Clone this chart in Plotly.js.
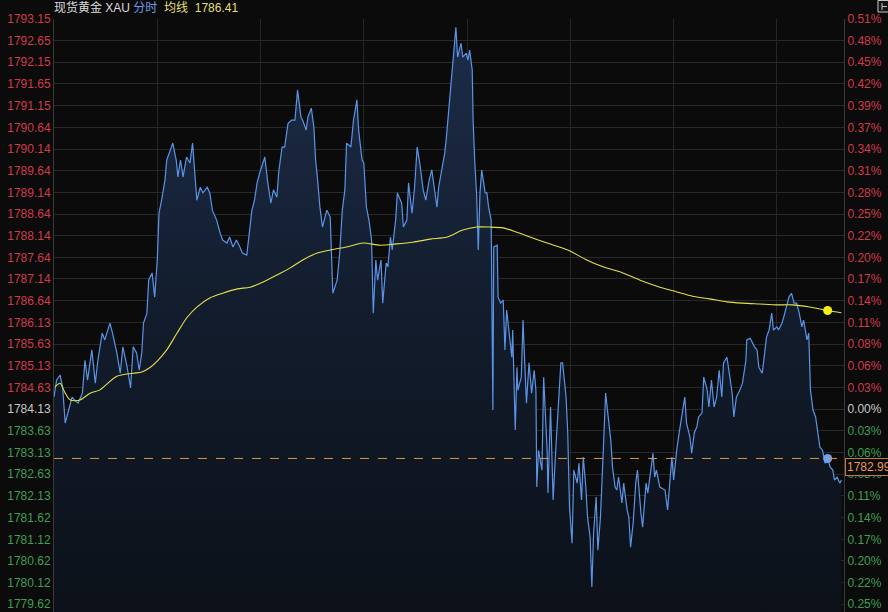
<!DOCTYPE html>
<html>
<head>
<meta charset="utf-8">
<script src="https://cdn.plot.ly/plotly-3.0.1.min.js"></script>
<style>html,body{margin:0;padding:0;background:#0b0b0b;}#chart{width:888px;height:612px;}</style>
</head>
<body>
<div id="chart"></div>
<script>
// minutes since session open
const times = [0,3,7,10,13,16,21,24,28,33,36,39,44,48,51,56,59,65,68,73,77,80,85,89,92,96,99,102,104,108,
110,114,117,120,122,125,129,131,135,138,142,144,147,150,154,158,161,164,166,170,
173,178,181,184,189,193,196,201,204,208,212,216,219,224,227,230,233,236,239,245,
248,252,255,259,261,265,268,272,276,280,283,287,289,293,295,299,302,304,306,309,
312,317,321,
324,329,332,335,338,340,345,348,352,354,358,360,363,366,369,371,374,376,380,382,
386,388,391,393,397,399,404,406,410,412,416,419,422,425,429,432,436,439,441,445,
447,452,454,456,460,462,465,467,469,473,475,479,481,483,486,487,489,491,493,495,
497,501,503,505,508,510,511,515,516,519,522,524,526,529,532,533,536,538,539,543,
545,547,549,552,555,558,560,561,563,567,569,573,574,577,580,583,585,589,591,595,
597,599,602,604,608,610,613,615,618,620,623,625,627,630,632,635,638,641,644,647,
649,652,654,656,660,662,666,668,670,673,676,678,682,684,688,690,694,696,698,700,
704,710,713,718,720,724,727,731,733,735,739,741,744,747,749,753,755,759,761,764,
767,770,773,776,778,782,784,788,790,793,797,800,804,805,809,812,814,817,819,823,
825,828,831,834,836,840,842,846,848,852,854,857,860,863,866,869,871,875,877,879,
882,885,888,890,893,896,899,902,905,907,910,913,915];

const prices = [1784.41,1784.80,1784.92,1784.64,1783.81,1784.04,1784.41,1784.34,1784.27,1784.50,
1785.26,1784.80,1785.50,1784.73,1785.26,1785.89,1785.73,1786.12,1785.89,1785.43,
1784.96,1785.57,1785.10,1784.62,1785.57,1785.43,1785.03,1785.43,1786.12,1786.35,
1787.11,1787.28,1786.72,1787.58,1788.66,1788.96,1789.43,1789.89,1790.12,1790.28,
1789.89,1789.50,1789.89,1789.50,1789.96,1789.82,1790.28,1789.50,1788.96,1789.26,
1789.13,1789.26,1789.13,1788.73,1788.50,1788.20,1788.04,1787.97,1788.11,1787.88,
1788.04,1787.88,1787.74,1787.69,1788.20,1788.73,1788.96,1789.36,1789.59,1789.96,
1789.43,1788.89,1789.20,1789.03,1789.59,1790.19,1790.19,1790.74,1790.81,1790.81,
1791.51,1790.88,1790.81,1790.58,1790.88,1791.09,1790.65,1789.89,1789.50,1788.80,
1788.34,1788.73,1788.57,
1786.81,1787.11,1787.74,1788.73,1789.20,1790.28,1790.19,1790.81,1791.28,1790.58,
1789.89,1789.82,1788.80,1788.50,1788.04,1786.35,1787.58,1787.11,1787.58,1786.58,
1787.51,1787.42,1788.11,1787.81,1788.50,1789.13,1788.89,1788.34,1788.50,1789.36,
1788.66,1789.26,1790.19,1789.82,1789.20,1788.96,1789.43,1789.66,1789.36,1788.80,
1789.26,1789.82,1790.05,1790.42,1791.28,1791.74,1792.43,1792.96,1792.27,1792.59,
1792.27,1792.36,1792.20,1792.43,1791.97,1790.81,1789.82,1789.13,1787.81,1789.13,
1789.66,1789.13,1789.13,1788.80,1788.50,1784.11,1787.88,1787.92,1786.72,1786.58,
1786.65,1785.50,1786.42,1785.80,1785.33,1785.96,1783.65,1785.10,1784.57,1784.87,
1786.19,1785.20,1784.27,1785.20,1784.50,1785.03,1784.57,1782.33,1783.18,1782.72,
1784.87,1783.18,1782.19,1784.18,1782.03,1783.18,1783.81,1785.20,1785.20,1784.41,
1783.58,1781.87,1781.03,1782.72,1782.42,1782.88,1782.03,1783.02,1782.33,1781.63,
1781.17,1780.02,1781.26,1782.10,1780.87,1781.63,1783.02,1784.50,1783.95,1783.41,
1782.79,1782.33,1782.26,1782.56,1781.96,1782.42,1781.80,1781.63,1780.94,1781.50,
1782.42,1782.72,1781.73,1781.40,1782.42,1782.19,1782.79,1783.11,1782.56,1782.72,
1782.33,1782.26,1781.80,1783.02,1782.49,1783.25,1783.65,1784.11,1784.41,1783.81,
1783.48,1783.11,1783.58,1783.72,1783.95,1784.04,1784.87,1784.57,1784.18,1784.80,
1784.18,1784.41,1785.03,1784.41,1785.20,1785.33,1785.03,1784.50,1783.95,1784.41,
1784.57,1784.73,1785.26,1785.73,1785.77,1785.66,1785.57,1785.50,1785.10,1784.96,
1785.26,1785.80,1785.96,1786.35,1785.96,1786.03,1785.96,1786.12,1786.26,1786.58,
1786.72,1786.81,1786.58,1786.58,1786.35,1786.03,1786.19,1785.73,1785.89,1784.57,
1784.11,1783.95,1783.58,1783.25,1783.18,1782.88,1782.99,1782.79,1782.72,1782.49,
1782.56,1782.42,1782.49];

const avgTimes = [1,7,13,19,30,42,53,73,92,102,112,120,131,143,155,166,181,196,213,228,
243,259,274,289,306,321,340,359,379,398,417,437,457,475,491,506,522,538,553,573,
597,619,638,661,681,704,724,742,762,782,800,820,840,858,878,899,915];
const avgPrices = [1784.64,1784.73,1784.50,1784.34,1784.34,1784.50,1784.57,1784.89,1784.96,1784.99,
1785.10,1785.24,1785.50,1785.89,1786.26,1786.49,1786.70,1786.81,1786.91,1786.95,
1787.07,1787.23,1787.39,1787.58,1787.74,1787.81,1787.88,1787.97,1787.92,1787.95,
1787.99,1788.06,1788.11,1788.27,1788.34,1788.34,1788.32,1788.22,1788.11,1787.97,
1787.81,1787.58,1787.42,1787.28,1787.11,1786.95,1786.84,1786.74,1786.68,1786.61,
1786.58,1786.56,1786.54,1786.54,1786.49,1786.41,1786.36];

const lastTime = 899;
const lastPrice = 1782.99;
const lastAvg = 1786.41;
const prevClose = 1784.13;

const priceTicks = [1793.15,1792.65,1792.15,1791.65,1791.15,1790.64,1790.14,1789.64,1789.14,1788.64,
1788.14,1787.64,1787.14,1786.64,1786.13,1785.63,1785.13,1784.63,1784.13,1783.63,
1783.13,1782.63,1782.13,1781.62,1781.12,1780.62,1780.12,1779.62];
const pctLabels = ['0.51%','0.48%','0.45%','0.42%','0.39%','0.37%','0.34%','0.31%','0.28%','0.25%',
'0.22%','0.20%','0.17%','0.14%','0.11%','0.08%','0.06%','0.03%','0.00%','0.03%',
'0.06%','0.08%','0.11%','0.14%','0.17%','0.20%','0.22%','0.25%'];

const RED = '#d23a4c', GREEN = '#3f9f55', NEUTRAL = '#c8c8c8';
function colorFor(v){ return v > prevClose + 0.001 ? RED : (v < prevClose - 0.001 ? GREEN : NEUTRAL); }
const leftText = priceTicks.map(v => `<span style="color:${colorFor(v)}">${v.toFixed(2)}</span>`);
const rightText = priceTicks.map((v,i) => `<span style="color:${colorFor(v)}">${pctLabels[i]}</span>`);

const yRange = [1779.44, 1793.15];
const xRange = [0, 918];

const traces = [
  {
    x: times, y: prices, type: 'scatter', mode: 'lines',
    line: {color: '#5b93e6', width: 1.2},
    fill: 'tozeroy',
    fillcolor: 'rgba(30,48,78,0.55)',
    fillgradient: {type: 'vertical', start: yRange[0], stop: yRange[1],
      colorscale: [[0, '#0c1119'], [0.5, '#121c2c'], [1, '#1d2d4a']]},
    hoverinfo: 'skip', showlegend: false
  },
  {
    x: avgTimes, y: avgPrices, type: 'scatter', mode: 'lines',
    line: {color: '#e4e04a', width: 1.1, shape: 'spline', smoothing: 0.8},
    hoverinfo: 'skip', showlegend: false
  },
  {
    x: [lastTime], y: [lastPrice], type: 'scatter', mode: 'markers',
    marker: {color: '#6fa0ec', size: 9}, showlegend: false, hoverinfo: 'skip'
  },
  {
    x: [lastTime], y: [lastAvg], type: 'scatter', mode: 'markers',
    marker: {color: '#f2ee1a', size: 9}, showlegend: false, hoverinfo: 'skip'
  },
  {
    x: [lastTime], y: [lastPrice], yaxis: 'y2', type: 'scatter', mode: 'markers',
    marker: {opacity: 0}, showlegend: false, hoverinfo: 'skip'
  }
];

const font = {family: 'Liberation Sans, Arial, "Noto Sans CJK SC", sans-serif', size: 12};

const layout = {
  width: 888, height: 612,
  paper_bgcolor: '#0b0b0b', plot_bgcolor: '#0b0b0b',
  margin: {l: 54, r: 44, t: 19, b: 0},
  font: font,
  showlegend: false,
  title: {
    text: '<span style="color:#dcdcdc">现货黄金 XAU</span> <span style="color:#6b9be4">分时</span>  <span style="color:#e2df78">均线  1786.41</span>',
    font: {family: 'Liberation Sans, "Noto Sans CJK SC", sans-serif', size: 12, color: '#dcdcdc'},
    x: 54/888, xanchor: 'left', xref: 'container',
    y: 1 - 8/612, yanchor: 'middle', yref: 'container'
  },
  xaxis: {
    range: xRange, showticklabels: false, ticks: '',
    tick0: 0, dtick: 120, showgrid: true, gridcolor: '#262626', gridwidth: 1,
    zeroline: false, showline: false, fixedrange: true
  },
  yaxis: {
    range: yRange, tickmode: 'array', tickvals: priceTicks, ticktext: leftText,
    showgrid: true, gridcolor: '#282828', gridwidth: 1, zeroline: false,
    showline: true, linecolor: '#3a3a3a', linewidth: 1, ticks: '',
    tickfont: {size: 12, color: RED, family: 'Liberation Sans, Arial, sans-serif'}
  },
  yaxis2: {
    range: yRange, overlaying: 'y', side: 'right', tickmode: 'array',
    tickvals: priceTicks, ticktext: rightText, showgrid: false, zeroline: false,
    showline: true, linecolor: '#3a3a3a', linewidth: 1, ticks: '',
    tickfont: {size: 12, color: RED, family: 'Liberation Sans, Arial, sans-serif'}
  },
  shapes: [
    {type: 'line', xref: 'paper', x0: 0, x1: 1, yref: 'y', y0: lastPrice, y1: lastPrice,
     line: {color: '#d9964e', width: 1, dash: 'dash'}},
    {type: 'rect', xref: 'paper', yref: 'paper', x0: 1.043, x1: 1.057, y0: 1.0118, y1: 1.0312,
     line: {color: '#c8c8c8', width: 1}, fillcolor: '#141414'},
    {type: 'line', xref: 'paper', yref: 'paper', x0: 1.0481, x1: 1.0481, y0: 1.0152, y1: 1.027,
     line: {color: '#c8c8c8', width: 1}},
    {type: 'line', xref: 'paper', yref: 'paper', x0: 1.0481, x1: 1.0544, y0: 1.021, y1: 1.021,
     line: {color: '#c8c8c8', width: 1}}
  ],
  annotations: [
    {xref: 'paper', yref: 'y', x: 1.0015, y: lastPrice, xanchor: 'left', yanchor: 'top',
     text: lastPrice.toFixed(2), showarrow: false,
     font: {size: 12, color: '#e89a5a', family: 'Liberation Sans, Arial, sans-serif'},
     bgcolor: '#0b0b0b', bordercolor: '#c47a3e', borderwidth: 1, borderpad: 1}
  ]
};

Plotly.newPlot('chart', traces, layout, {displayModeBar: false, staticPlot: true});
</script>
</body>
</html>
